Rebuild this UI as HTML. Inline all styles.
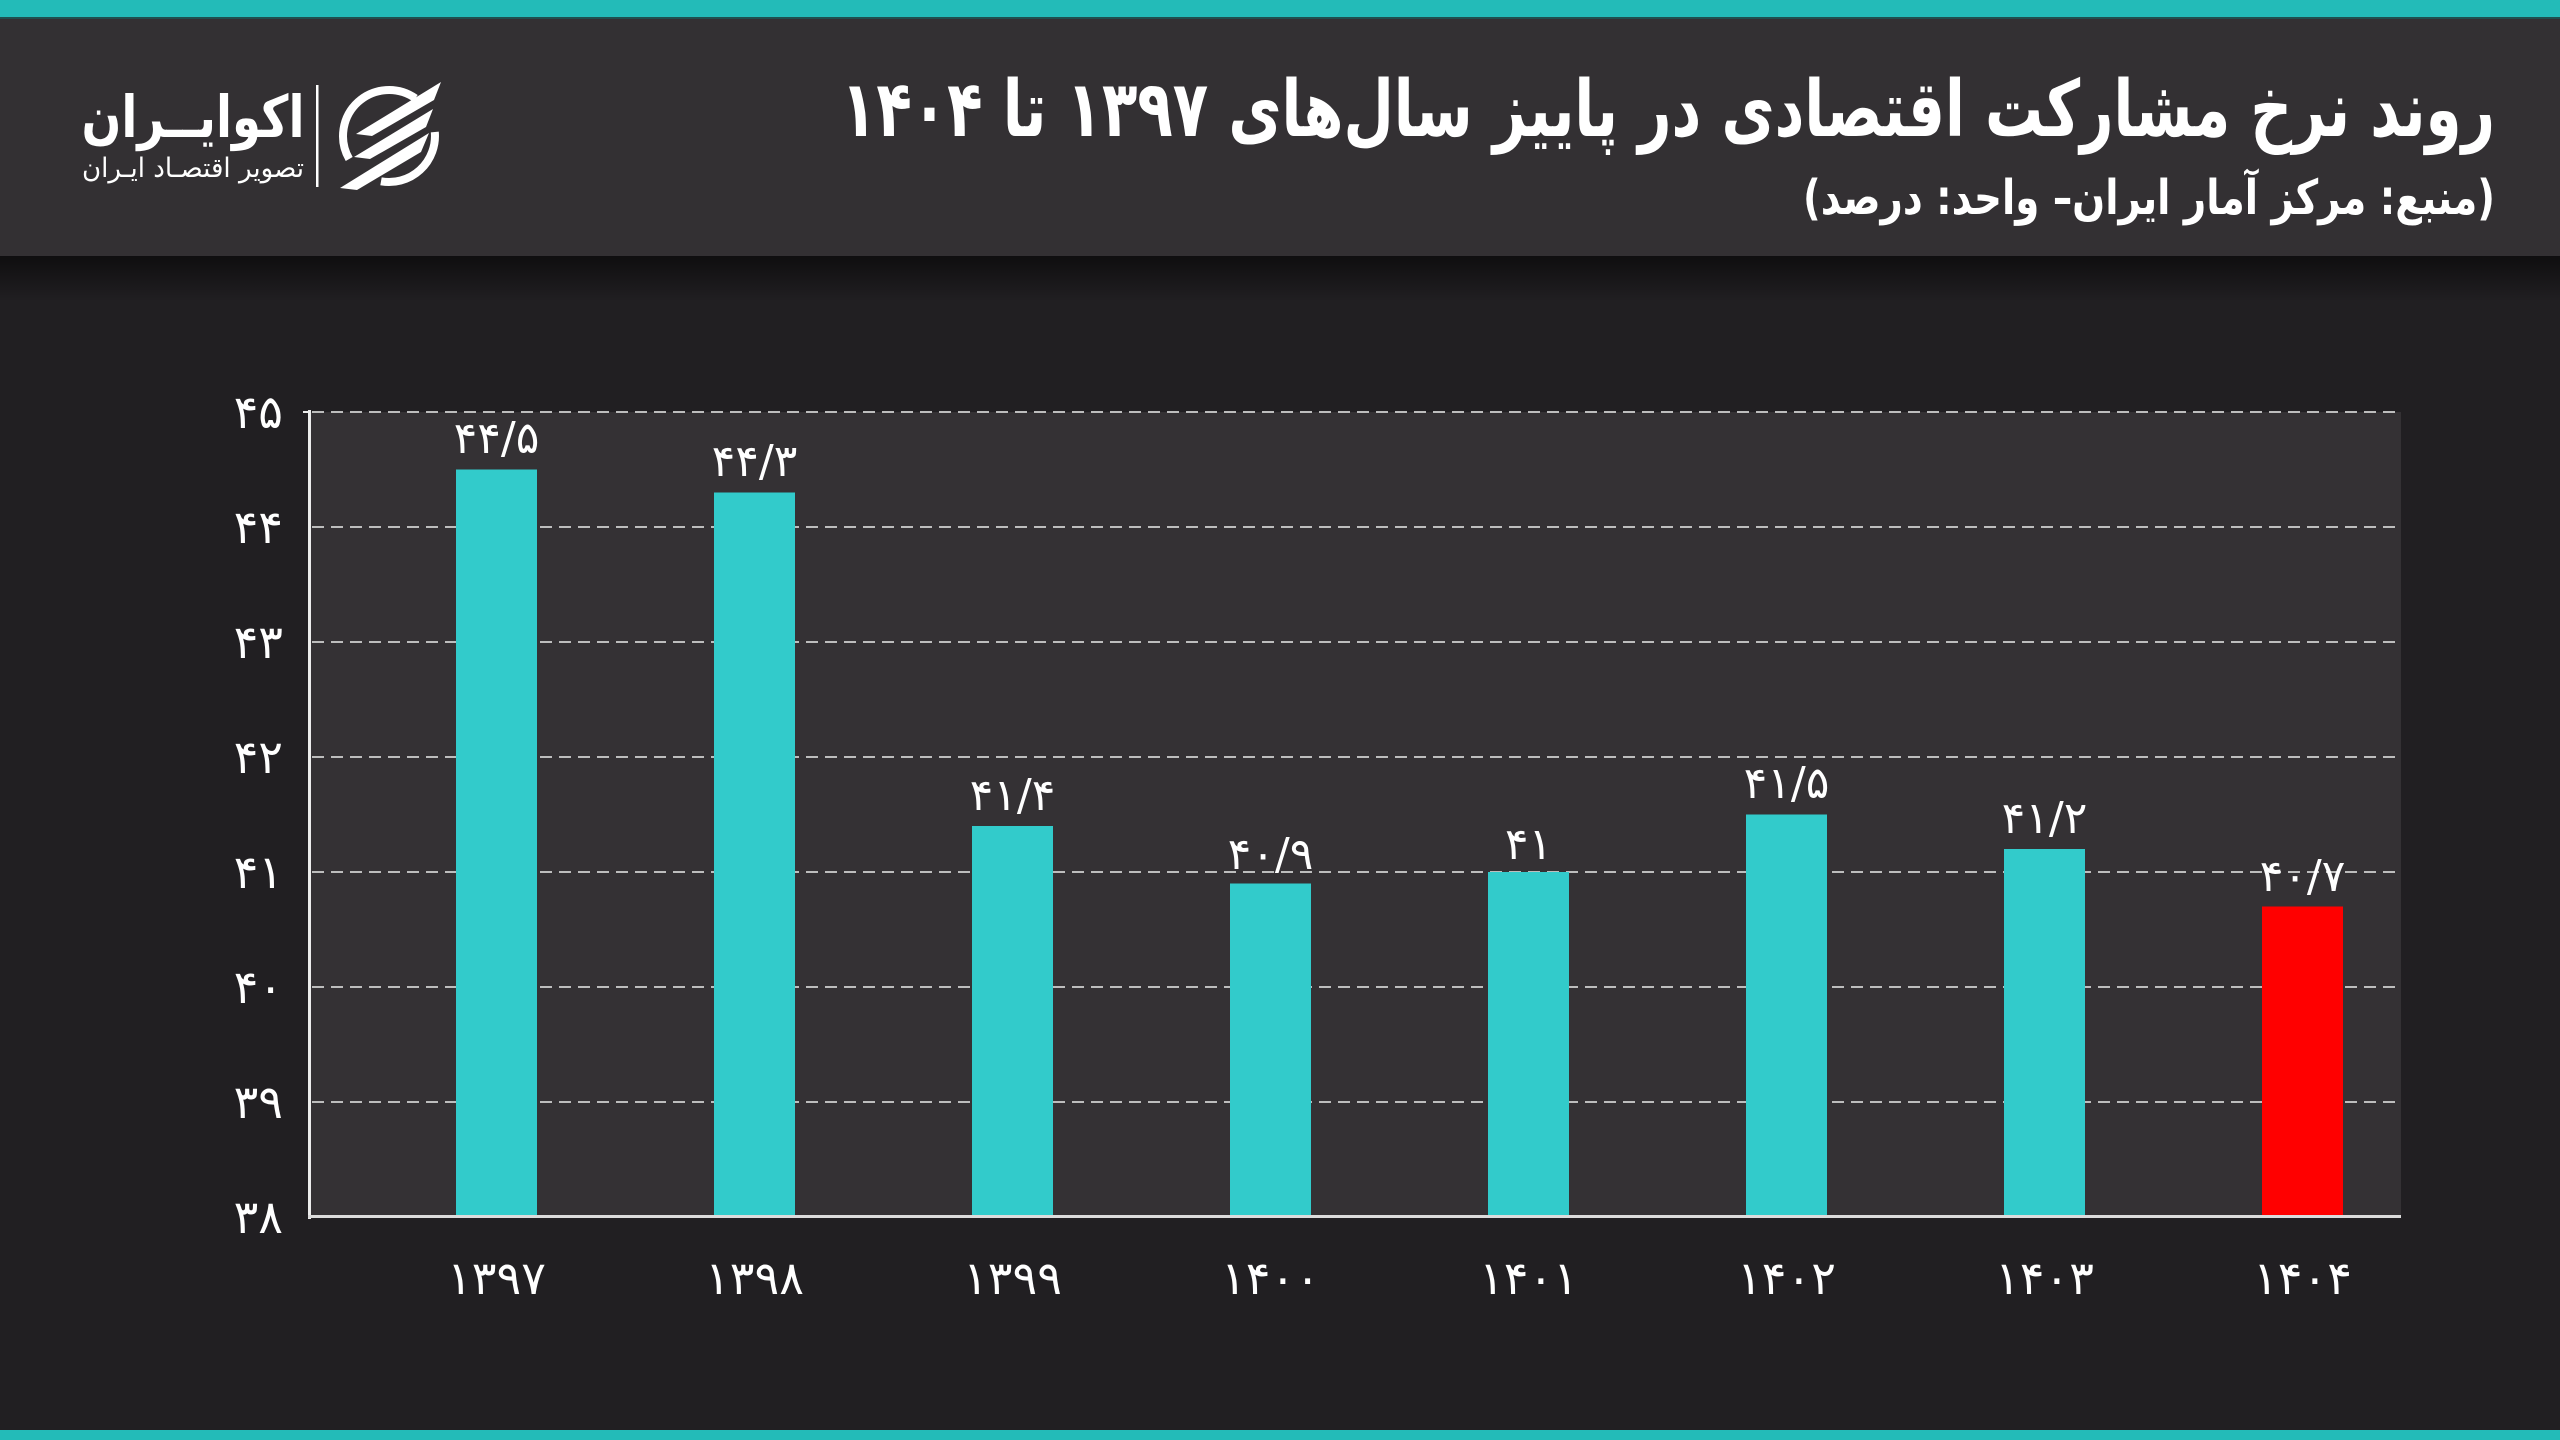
<!DOCTYPE html>
<html>
<head>
<meta charset="utf-8">
<style>
  html,body{margin:0;padding:0;background:#211f22;}
  body{width:2560px;height:1440px;overflow:hidden;}
  svg{display:block;}
  .fa{font-family:"DejaVu Sans","Liberation Sans",sans-serif;}
</style>
</head>
<body>
<svg width="2560" height="1440" viewBox="0 0 2560 1440" xmlns="http://www.w3.org/2000/svg">
  <defs>
    <linearGradient id="sh" x1="0" y1="0" x2="0" y2="1">
      <stop offset="0" stop-color="#000" stop-opacity="0.55"/>
      <stop offset="1" stop-color="#000" stop-opacity="0"/>
    </linearGradient>
  </defs>

  <!-- background -->
  <rect x="0" y="0" width="2560" height="1440" fill="#211f22"/>
  <!-- header -->
  <rect x="0" y="0" width="2560" height="256" fill="#333033"/>
  <rect x="0" y="0" width="2560" height="17" fill="#23bbb8"/>
  <rect x="0" y="17" width="2560" height="2" fill="#1f4f4e"/>
  <rect x="0" y="256" width="2560" height="46" fill="url(#sh)"/>
  <!-- bottom band -->
  <rect x="0" y="1430" width="2560" height="10" fill="#23bbb8"/>

  <!-- title -->
  <text class="fa" x="1668" y="136" text-anchor="middle" direction="rtl" font-size="78" font-weight="bold" fill="#ffffff" textLength="1654" lengthAdjust="spacingAndGlyphs">روند نرخ مشارکت اقتصادی در پاییز سال‌های ۱۳۹۷ تا ۱۴۰۴</text>
  <text class="fa" x="2149" y="214" text-anchor="middle" direction="rtl" font-size="48" font-weight="bold" fill="#ffffff" textLength="692" lengthAdjust="spacingAndGlyphs">(منبع: مرکز آمار ایران– واحد: درصد)</text>

  <!-- logo -->
  <text class="fa" x="193" y="137" text-anchor="middle" direction="rtl" font-size="58" font-weight="bold" fill="#ffffff" textLength="223" lengthAdjust="spacingAndGlyphs">اکوایــران</text>
  <text class="fa" x="193" y="177" text-anchor="middle" direction="rtl" font-size="27" fill="#ffffff" textLength="222" lengthAdjust="spacingAndGlyphs">تصویر اقتصـاد ایـران</text>
  <rect x="316" y="85" width="2.5" height="102" fill="#ffffff"/>
  <g fill="none" stroke="#ffffff" stroke-width="8">
    <path d="M 415.4 98.3 A 46 46 0 0 0 349.2 159"/>
    <path d="M 434.8 132 A 46 46 0 0 1 381 181.3"/>
  </g>
  <g fill="#ffffff">
    <polygon points="356,134 441,82 434,100 372,136"/>
    <polygon points="354,157 433,109 426,127 370,159"/>
    <polygon points="340,188 429,133 421,152 357,190"/>
  </g>

  <!-- plot area -->
  <rect x="309" y="412" width="2092" height="805" fill="#343134"/>

  <!-- gridlines -->
  <g stroke="#bdbdbd" stroke-width="2" stroke-dasharray="12 7">
    <line x1="312" y1="412" x2="2401" y2="412"/>
    <line x1="312" y1="527" x2="2401" y2="527"/>
    <line x1="312" y1="642" x2="2401" y2="642"/>
    <line x1="312" y1="757" x2="2401" y2="757"/>
    <line x1="312" y1="872" x2="2401" y2="872"/>
    <line x1="312" y1="987" x2="2401" y2="987"/>
    <line x1="312" y1="1102" x2="2401" y2="1102"/>
  </g>

  <!-- bars -->
  <g fill="#32cbcb">
    <rect x="456" y="469.5" width="81" height="747.5"/>
    <rect x="714" y="492.5" width="81" height="724.5"/>
    <rect x="972" y="826" width="81" height="391"/>
    <rect x="1230" y="883.5" width="81" height="333.5"/>
    <rect x="1488" y="872" width="81" height="345"/>
    <rect x="1746" y="814.5" width="81" height="402.5"/>
    <rect x="2004" y="849" width="81" height="368"/>
  </g>
  <rect x="2262" y="906.5" width="81" height="310.5" fill="#ff0000"/>

  <!-- axes -->
  <rect x="308" y="410" width="3" height="809" fill="#ececec"/>
  <rect x="303" y="411" width="6" height="2" fill="#ececec"/>
  <rect x="308" y="1215" width="2093" height="3" fill="#dcdcdc"/>

  <!-- y labels -->
  <g class="fa" font-size="46" fill="#ffffff" text-anchor="end">
    <text x="283" y="428">۴۵</text>
    <text x="283" y="543">۴۴</text>
    <text x="283" y="658">۴۳</text>
    <text x="283" y="773">۴۲</text>
    <text x="283" y="888">۴۱</text>
    <text x="283" y="1003">۴۰</text>
    <text x="283" y="1118">۳۹</text>
    <text x="283" y="1233">۳۸</text>
  </g>

  <!-- value labels -->
  <g class="fa" font-size="44" fill="#ffffff" text-anchor="middle">
    <text x="496.5" y="453">۴۴/۵</text>
    <text x="754.5" y="476">۴۴/۳</text>
    <text x="1012.5" y="810">۴۱/۴</text>
    <text x="1270.5" y="869">۴۰/۹</text>
    <text x="1528.5" y="859">۴۱</text>
    <text x="1786.5" y="798">۴۱/۵</text>
    <text x="2044.5" y="833">۴۱/۲</text>
    <text x="2302.5" y="891">۴۰/۷</text>
  </g>

  <!-- x labels -->
  <g class="fa" font-size="46" fill="#ffffff" text-anchor="middle">
    <text x="496.5" y="1294">۱۳۹۷</text>
    <text x="754.5" y="1294">۱۳۹۸</text>
    <text x="1012.5" y="1294">۱۳۹۹</text>
    <text x="1270.5" y="1294">۱۴۰۰</text>
    <text x="1528.5" y="1294">۱۴۰۱</text>
    <text x="1786.5" y="1294">۱۴۰۲</text>
    <text x="2044.5" y="1294">۱۴۰۳</text>
    <text x="2302.5" y="1294">۱۴۰۴</text>
  </g>
</svg>
</body>
</html>
